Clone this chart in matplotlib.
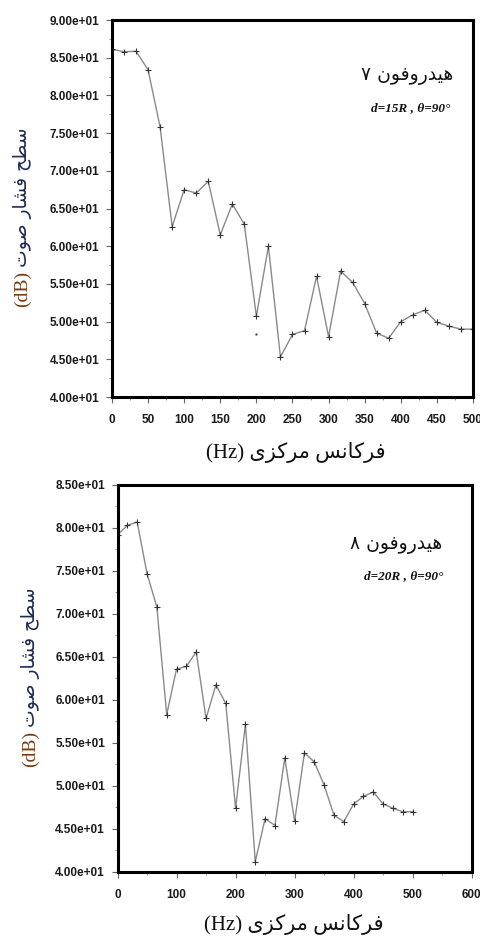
import matplotlib
matplotlib.use("Agg")
import matplotlib.pyplot as plt
import numpy as np
from matplotlib.ticker import MultipleLocator, FormatStrFormatter

# centre frequencies (Hz), 1/60 of 1000 steps
freq = np.arange(31) * 500 / 30

# hydrophone 7, d=15R
spl_h7 = [86.1, 85.8, 85.85, 83.4, 75.8, 62.6, 67.5, 67.05, 68.6, 61.5,
          65.6, 62.9, 50.7, 60.0, 45.3, 48.3, 48.8, 56.0, 48.0, 56.7,
          55.2, 52.4, 48.45, 47.8, 50.0, 50.9, 51.5, 49.9, 49.4, 49.0, 49.0]
# hydrophone 8, d=20R
spl_h8 = [79.2, 80.3, 80.7, 74.7, 70.8, 58.3, 63.6, 63.9, 65.6, 57.85,
          61.75, 59.6, 47.4, 57.2, 41.2, 46.2, 45.4, 53.25, 45.9, 53.85,
          52.8, 50.1, 46.6, 45.85, 47.9, 48.8, 49.3, 47.9, 47.4, 47.0, 47.0]

titles = ["هیدروفون ۷", "هیدروفون ۸"]
params = ["d=15R , θ=90°", "d=20R , θ=90°"]
ylabel_fa = "سطح فشار صوت"
xlabel_fa = "فرکانس مرکزی"

# --- tiny persian shaper (matplotlib has no text shaping) ---
forms = {
    'ا': ('\uFE8D', '\uFE8E', None, None),
    'د': ('\uFEA9', '\uFEAA', None, None),
    'ر': ('\uFEAD', '\uFEAE', None, None),
    'ز': ('\uFEAF', '\uFEB0', None, None),
    'و': ('\uFEED', '\uFEEE', None, None),
    'ت': ('\uFE95', '\uFE96', '\uFE97', '\uFE98'),
    'ح': ('\uFEA1', '\uFEA2', '\uFEA3', '\uFEA4'),
    'س': ('\uFEB1', '\uFEB2', '\uFEB3', '\uFEB4'),
    'ش': ('\uFEB5', '\uFEB6', '\uFEB7', '\uFEB8'),
    'ص': ('\uFEB9', '\uFEBA', '\uFEBB', '\uFEBC'),
    'ط': ('\uFEC1', '\uFEC2', '\uFEC3', '\uFEC4'),
    'ف': ('\uFED1', '\uFED2', '\uFED3', '\uFED4'),
    'م': ('\uFEE1', '\uFEE2', '\uFEE3', '\uFEE4'),
    'ن': ('\uFEE5', '\uFEE6', '\uFEE7', '\uFEE8'),
    'ه': ('\uFEE9', '\uFEEA', '\uFEEB', '\uFEEC'),
    'ی': ('\uFBFC', '\uFBFD', '\uFBFE', '\uFBFF'),
    'ک': ('\uFB8E', '\uFB8F', '\uFB90', '\uFB91'),
}


def shape(s):
    out = []
    for i, c in enumerate(s):
        if c not in forms:
            out.append(c)
            continue
        prev = s[i - 1] if i > 0 else ' '
        nxt = s[i + 1] if i < len(s) - 1 else ' '
        join_prev = prev in forms and forms[prev][2] is not None
        join_next = forms[c][2] is not None and nxt in forms
        if join_prev and join_next:
            g = forms[c][3]
        elif join_prev:
            g = forms[c][1]
        elif join_next:
            g = forms[c][2]
        else:
            g = forms[c][0]
        out.append(g)
    return ''.join(out)[::-1]


fa_font = ['DejaVu Sans']
serif = ['Liberation Serif', 'DejaVu Sans']
tick_font = ['Liberation Sans Narrow', 'Liberation Sans', 'DejaVu Sans']

fig = plt.figure(figsize=(4.81, 9.39), dpi=100)
axes_pos = [[0.2328, 0.5772, 0.7505, 0.4015], [0.2443, 0.0714, 0.7364, 0.4121]]
ylims = [(40, 90), (40, 85)]
xlims = [(0, 500), (0, 600)]
xmajor = [50, 100]
data = [spl_h7, spl_h8]
ylab_pos = [(0.046, 0.673), (0.064, 0.183)]
xlab_pos = [(0.615, 0.518), (0.61, 0.015)]
title_pos = [(0.943, 0.92), (0.92, 0.42)]
param_pos = [(0.937, 0.885), (0.922, 0.386)]

for k in range(2):
    ax = fig.add_axes(axes_pos[k])
    ax.plot(freq, data[k], color='#8a8a8a', lw=1.0, marker='+', ms=4,
            mec='#333333', mew=0.8)
    if k == 0:
        ax.plot([200], [48.4], marker='.', ms=1.5, color='#555555')
    ax.set_xlim(*xlims[k])
    ax.set_ylim(*ylims[k])
    ax.xaxis.set_major_locator(MultipleLocator(xmajor[k]))
    ax.xaxis.set_minor_locator(MultipleLocator(xmajor[k] / 2))
    ax.yaxis.set_major_locator(MultipleLocator(5))
    ax.yaxis.set_minor_locator(MultipleLocator(2.5))
    ax.yaxis.set_major_formatter(FormatStrFormatter('%.2e'))
    for sp in ax.spines.values():
        sp.set_linewidth(2.2)
        sp.set_color('black')
    ax.tick_params(which='major', direction='out', length=4, width=0.8,
                   color='#666666', labelsize=8.5, labelcolor='#1a1a1a')
    ax.tick_params(which='minor', direction='out', length=2, width=0.6,
                   color='#888888')
    ax.tick_params(axis='x', which='major', pad=8)
    ax.tick_params(axis='y', which='major', pad=5)
    for lab in ax.get_xticklabels() + ax.get_yticklabels():
        lab.set_fontweight('bold')
        lab.set_family(tick_font)

    # text inside
    fig.text(*title_pos[k], shape(titles[k]), ha='right', va='center',
             fontsize=13.5, family=fa_font, color='#111111')
    fig.text(*param_pos[k], params[k], ha='right', va='center', fontsize=9.5,
             family=serif, style='italic', fontweight='bold', color='#111111')

    # y label: (dB) in brown, persian words in dark blue
    db = fig.text(*ylab_pos[k], '(dB)', rotation=90, ha='center', va='bottom',
                  fontsize=14, family=serif, color='#7a3b12')
    ax.annotate(shape(ylabel_fa), xy=(0.5, 1), xycoords=db, xytext=(0, 3),
                textcoords='offset points', rotation=90, ha='center',
                va='bottom', fontsize=13.5, family=fa_font, color='#1c2a55')

    # x label
    fig.text(*xlab_pos[k], '(Hz) ' + shape(xlabel_fa), ha='center',
             va='center', fontsize=15, family=serif, color='#111111')

fig.savefig('out.png', dpi=100)
